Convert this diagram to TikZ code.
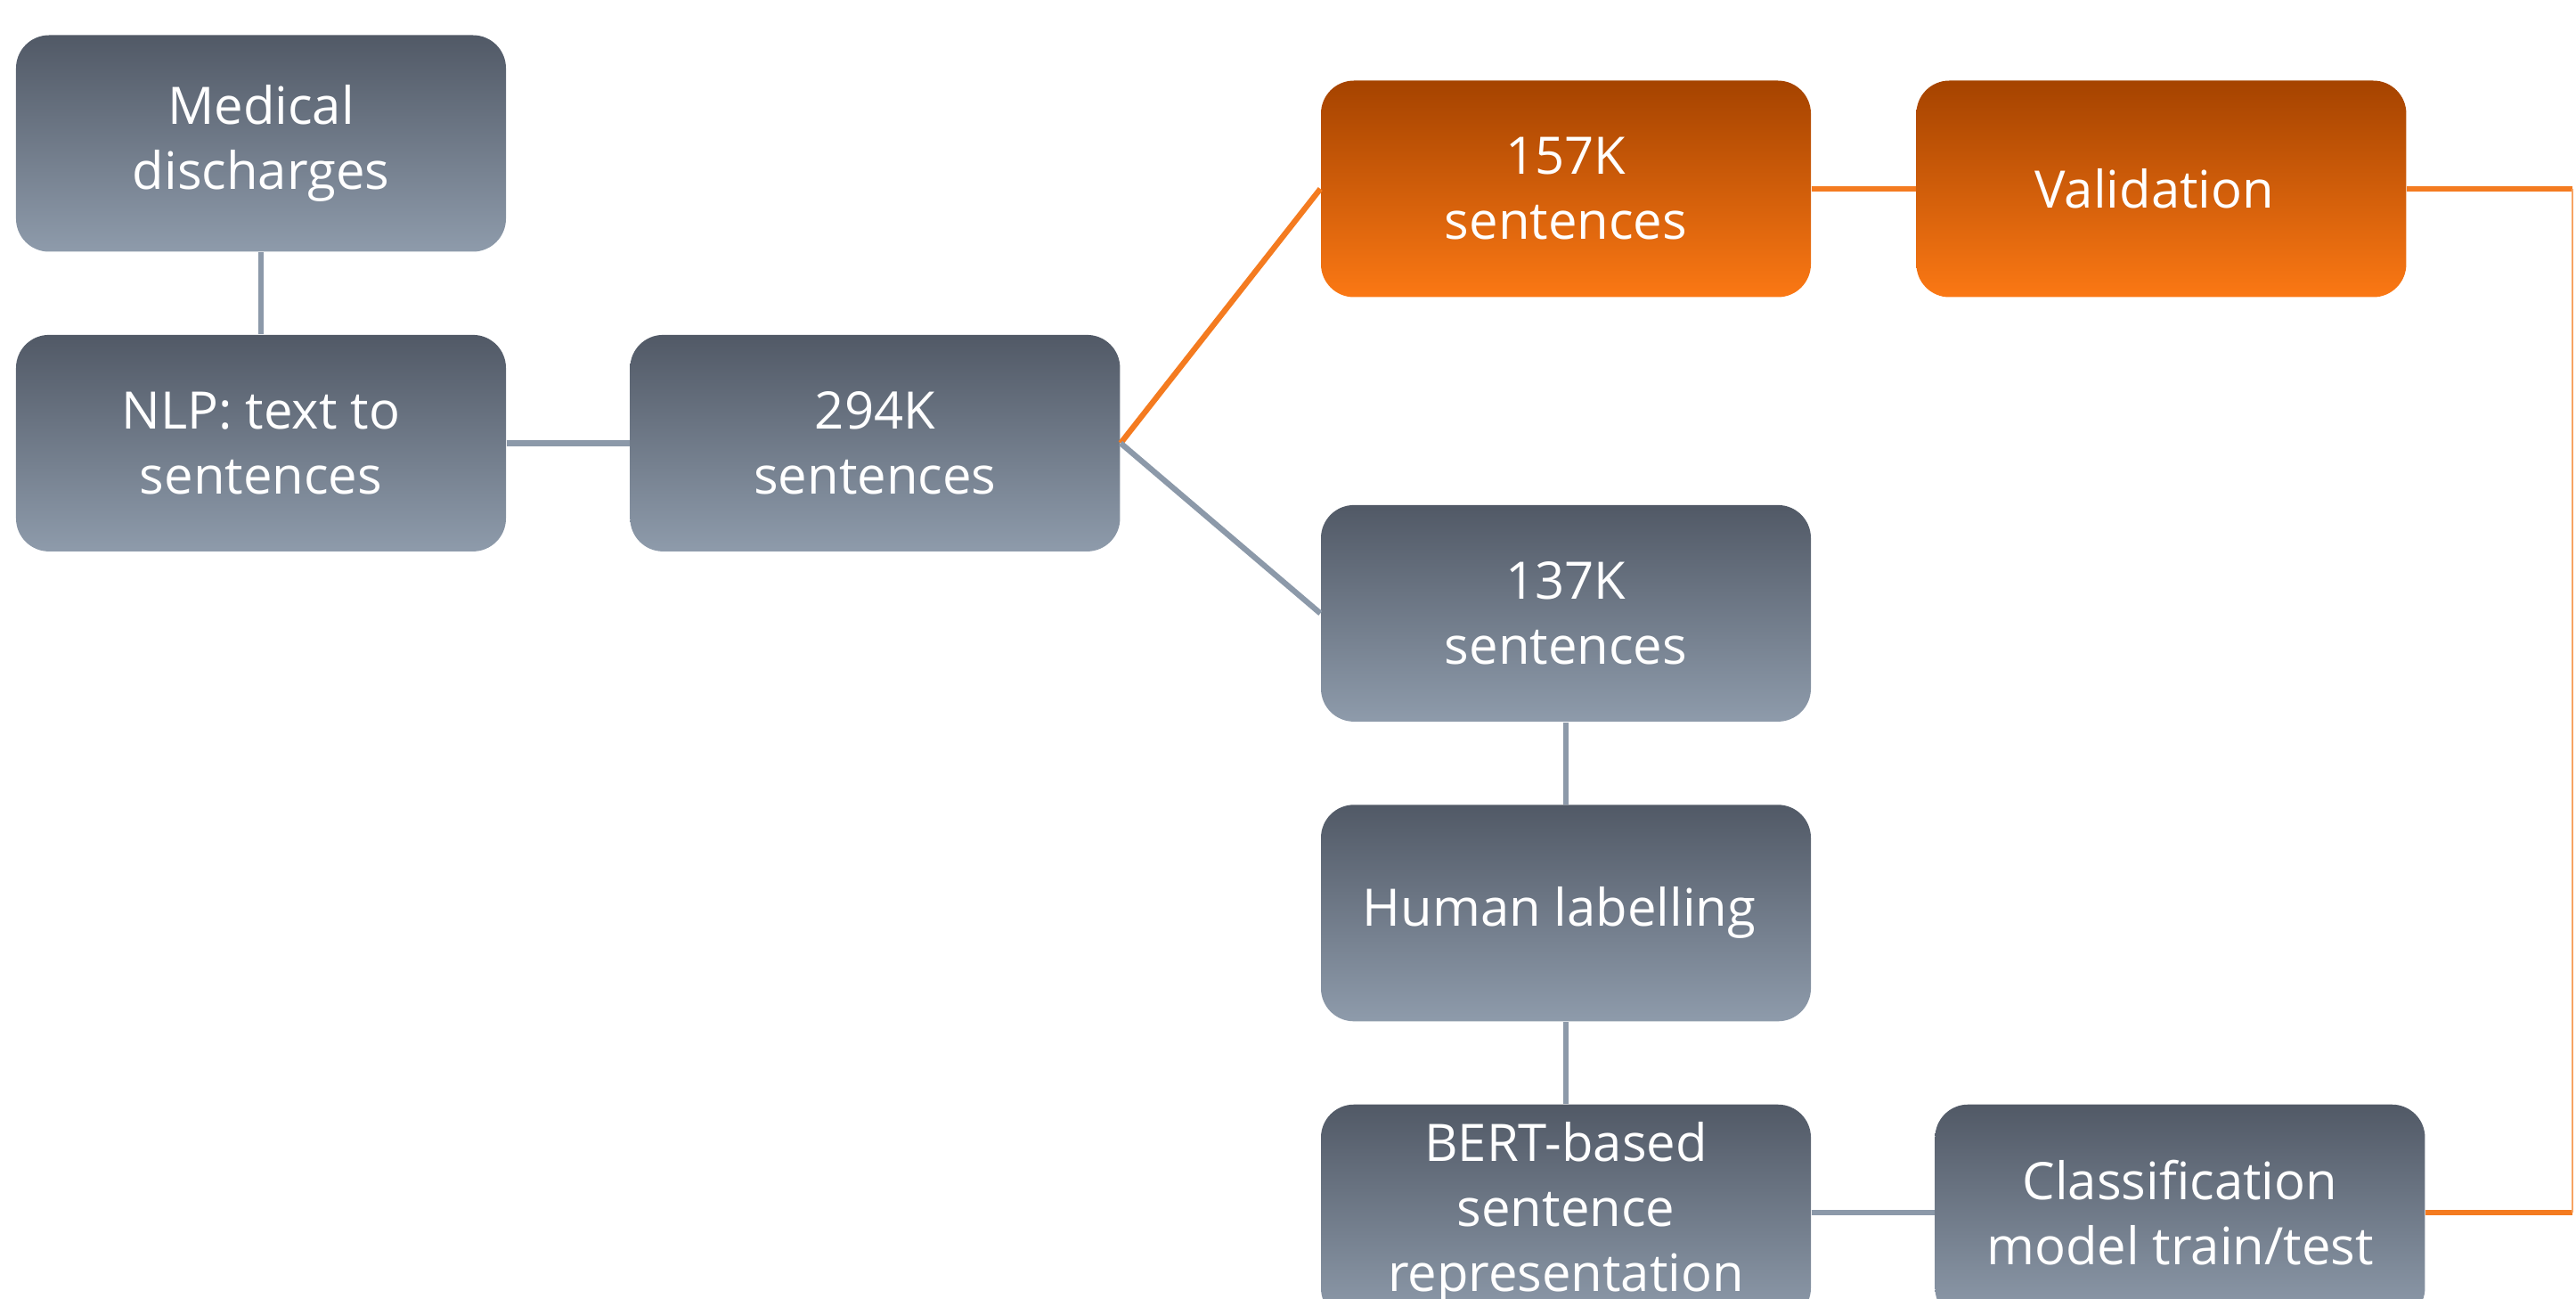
\documentclass[tikz,border=0pt]{standalone}
\usepackage{fontspec}
\setmainfont{Open Sans}
\usepackage{tikz}
\usetikzlibrary{positioning}

\definecolor{slatetop}{HTML}{515966}
\definecolor{slatebot}{HTML}{8E9BAB}
\definecolor{ambertop}{HTML}{A54300}
\definecolor{amberbot}{HTML}{FB7814}
\definecolor{slateline}{HTML}{8C99A9}
\definecolor{amberline}{HTML}{F47B20}

\begin{document}
\begin{tikzpicture}[
    box/.style = { rounded corners = 0.37cm, align = center, text = white,
      minimum width = 5.5cm, minimum height = 2.43cm, inner sep = 0pt,
      top color = slatetop, bottom color = slatebot,
      font = \fontsize{16.5}{20.8}\selectfont },
    hot/.style = { box, top color = ambertop, bottom color = amberbot },
    link/.style = { draw = slateline, line width = 1.8pt },
    hotlink/.style = { draw = amberline, line width = 1.8pt },
    node distance = 0.92cm
  ]
  \useasboundingbox (0,0) rectangle (28.92,-14.58);
  \begin{scope}
    \clip (0,0) rectangle (28.92,-14.58);

    \node [box] (medical) at (2.93,-1.61) { Medical \\ discharges };
    \node [box, below = of medical] (nlp) { NLP: text to \\ sentences };
    \node [box, right = 1.38cm of nlp] (all) { 294K \\ sentences };

    \node [hot] (valset) at (17.58,-2.12) { 157K \\ sentences };
    \node [hot, right = 1.17cm of valset] (validation) { Validation };

    \node [box, below = 2.32cm of valset] (trainset) { 137K \\ sentences };
    \node [box, below = of trainset] (labelling) { Human labelling };
    \node [box, below = of labelling] (bert) { BERT-based \\ sentence \\ representation };
    \node [box, right = 1.38cm of bert] (classify) { Classification \\ model train/test };

    \coordinate (edge) at (28.88,0);

    \draw [link] (medical) -- (nlp);
    \draw [link] (nlp) -- (all);
    \draw [hotlink] (all.east) -- (valset.west);
    \draw [link] (all.east) -- (trainset.west);
    \draw [hotlink] (valset) -- (validation);
    \draw [link] (trainset) -- (labelling);
    \draw [link] (labelling) -- (bert);
    \draw [link] (bert) -- (classify);

    \draw [hotlink] (validation.east) -- (validation.east -| edge);
    \draw [hotlink] (classify.east) -- (classify.east -| edge);
    \draw [draw = amberline!70, line width = 0.5pt]
      (validation.east -| edge) -- (classify.east -| edge);
  \end{scope}
\end{tikzpicture}
\end{document}
